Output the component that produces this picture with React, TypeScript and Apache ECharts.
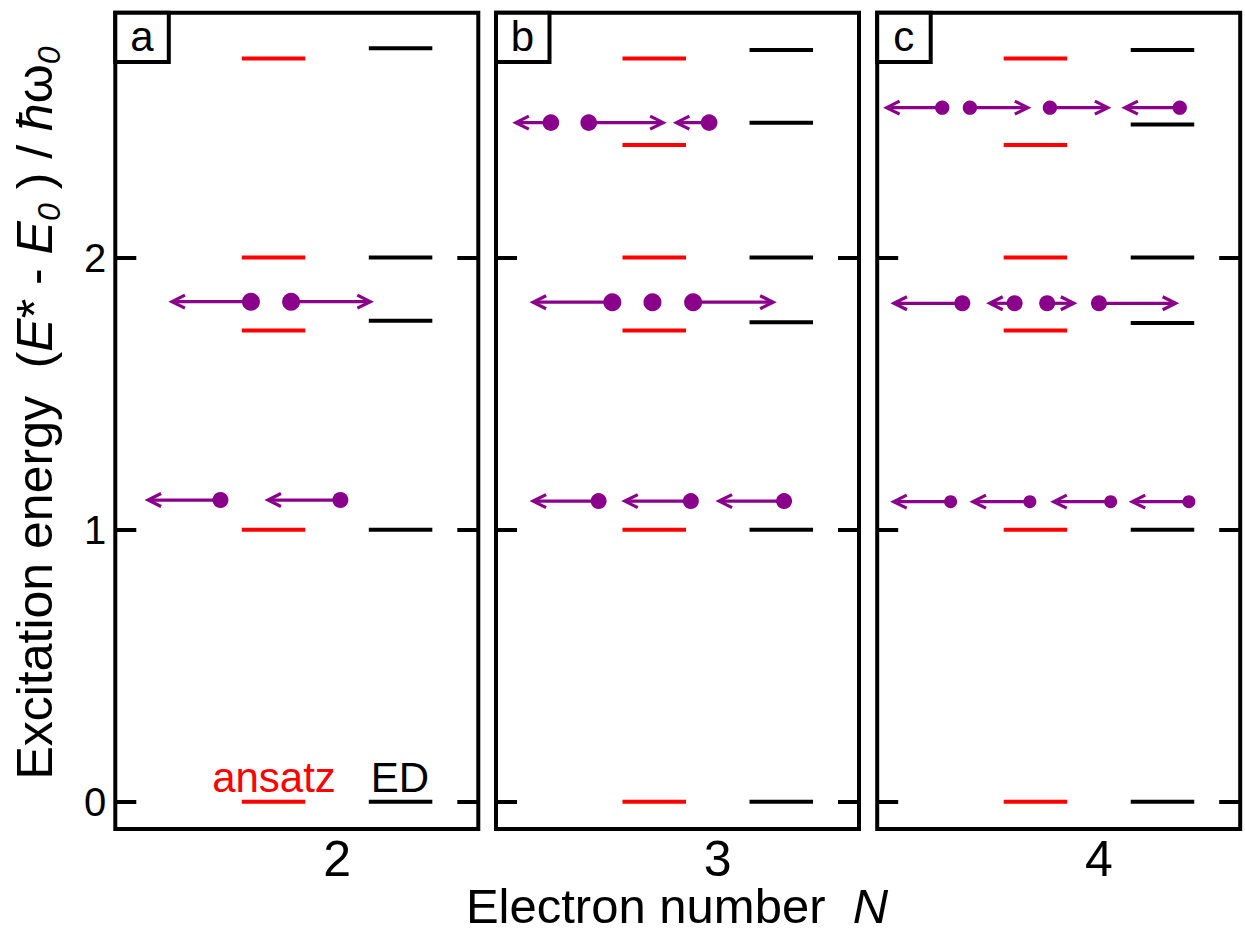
import React, { useEffect, useRef } from "react";
import * as echarts from "echarts";

const FONT = "'Liberation Sans', Arial, sans-serif";
const PURPLE = "#8b008b";
const RED = "#ff0000";

// Categories (one panel per electron number)
const electronNumbers = [2, 3, 4];
const panelLetters = ["a", "b", "c"];
const yTickValues = [0, 1, 2];

// Energy levels (units of hbar*omega0)
const ansatzLevelsN2 = [0, 1, 1.732, 2, 2.732];
const ansatzLevelsN3 = [0, 1, 1.732, 2, 2.414, 2.732];
const ansatzLevelsN4 = [0, 1, 1.732, 2, 2.414, 2.732];
const edLevelsN2 = [0, 1, 1.768, 2, 2.769];
const edLevelsN3 = [0, 1, 1.762, 2, 2.496, 2.763];
const edLevelsN4 = [0, 1, 1.76, 2, 2.489, 2.763];

// Arrows: [dot position, energy, arrow tip position (null = no arrow), dot weight]
const arrowsN2 = [
  [1.541, 1.109, 1.256, 8],
  [2.013, 1.109, 1.728, 8],
  [1.661, 1.838, 1.35, 9],
  [1.819, 1.838, 2.131, 9],
];
const arrowsN3 = [
  [2.531, 1.105, 2.273, 8],
  [2.894, 1.105, 2.634, 8],
  [3.261, 1.105, 3.005, 8],
  [2.585, 1.836, 2.273, 9],
  [2.743, 1.836, null, 9],
  [2.903, 1.836, 3.218, 9],
  [2.343, 2.496, 2.205, 8.3],
  [2.492, 2.496, 2.785, 8.3],
  [2.966, 2.496, 2.837, 8.3],
];
const arrowsN4 = [
  [3.416, 1.103, 3.192, 6.5],
  [3.728, 1.103, 3.504, 6.5],
  [4.046, 1.103, 3.822, 6.5],
  [4.354, 1.103, 4.131, 6.5],
  [3.462, 1.832, 3.193, 8],
  [3.668, 1.832, 3.57, 8],
  [3.796, 1.832, 3.901, 8],
  [4.0, 1.832, 4.302, 8],
  [3.383, 2.551, 3.164, 7.2],
  [3.492, 2.551, 3.72, 7.2],
  [3.807, 2.551, 4.035, 7.2],
  [4.318, 2.551, 4.102, 7.2],
];

const ansatzLevels = [ansatzLevelsN2, ansatzLevelsN3, ansatzLevelsN4];
const edLevels = [edLevelsN2, edLevelsN3, edLevelsN4];
const arrowSets = [arrowsN2, arrowsN3, arrowsN4];

// layout
const GRID_LEFTS = [115.3, 496, 877.2];
const GRID_TOP = 12.7;
const GRID_W = 363;
const GRID_H = 816.3;
const X_BELOW = 0.873;
const X_ABOVE = 0.556;
const LEVEL_IN = 0.125;
const LEVEL_OUT = 0.375;

function levelRenderer(color: string, width: number) {
  return (params: any, api: any) => {
    const p1 = api.coord([api.value(0), api.value(1)]);
    const p2 = api.coord([api.value(2), api.value(1)]);
    return {
      type: "line",
      shape: { x1: p1[0], y1: p1[1], x2: p2[0], y2: p2[1] },
      style: { stroke: color, lineWidth: width },
    };
  };
}

function arrowRenderer(params: any, api: any) {
  const dot = api.coord([api.value(0), api.value(1)]);
  const tipVal = api.value(2);
  const r = api.value(3);
  const children: any[] = [];
  if (tipVal !== null && !isNaN(tipVal)) {
    const tip = api.coord([tipVal, api.value(1)]);
    const d = Math.sign(dot[0] - tip[0]) || 1;
    children.push({
      type: "line",
      shape: { x1: dot[0], y1: dot[1], x2: tip[0] + d * 1, y2: tip[1] },
      style: { stroke: PURPLE, lineWidth: 3.2 },
    });
    children.push({
      type: "polyline",
      shape: {
        points: [
          [tip[0] + d * 13, tip[1] - 6.5],
          [tip[0], tip[1]],
          [tip[0] + d * 13, tip[1] + 6.5],
        ],
      },
      style: { stroke: PURPLE, lineWidth: 3.2, fill: null, lineJoin: "miter" },
    });
  }
  children.push({
    type: "circle",
    shape: { cx: dot[0], cy: dot[1], r },
    style: { fill: PURPLE },
  });
  return { type: "group", children };
}

export default function App() {
  const ref = useRef<HTMLDivElement>(null);
  useEffect(() => {
    if (!ref.current) return;
    const chart = echarts.init(ref.current, undefined, { renderer: "svg" });

    const grids: any[] = [];
    const xAxes: any[] = [];
    const yAxes: any[] = [];
    const series: any[] = [];
    const graphics: any[] = [];

    electronNumbers.forEach((N, i) => {
      grids.push({
        left: GRID_LEFTS[i],
        top: GRID_TOP,
        width: GRID_W,
        height: GRID_H,
        show: true,
        borderColor: "#000",
        borderWidth: 4,
        backgroundColor: "transparent",
      });
      xAxes.push({
        type: "value",
        gridIndex: i,
        min: N - X_BELOW,
        max: N + X_ABOVE,
        axisLine: { show: false },
        axisTick: { show: false },
        splitLine: { show: false },
        axisLabel: {
          customValues: [N],
          fontSize: 50,
          lineHeight: 38,
          fontFamily: FONT,
          color: "#000",
          margin: 11,
          formatter: (v: number) => String(Math.round(v)),
        },
      });
      ["left", "right"].forEach((pos) => {
        yAxes.push({
          type: "value",
          gridIndex: i,
          position: pos,
          min: -0.1,
          max: 2.9,
          axisLine: { show: false },
          splitLine: { show: false },
          axisTick: {
            show: true,
            inside: true,
            length: 21,
            customValues: yTickValues,
            lineStyle: { color: "#000", width: 4 },
          },
          axisLabel: {
            show: i === 0 && pos === "left",
            customValues: yTickValues,
            fontSize: 40,
            fontFamily: FONT,
            color: "#000",
            margin: 9,
          },
        });
      });

      series.push({
        type: "custom",
        name: "ansatz",
        xAxisIndex: i,
        yAxisIndex: i * 2,
        renderItem: levelRenderer(RED, 4),
        data: ansatzLevels[i].map((e) => [N - LEVEL_OUT, e, N - LEVEL_IN]),
        z: 3,
      });
      series.push({
        type: "custom",
        name: "ED",
        xAxisIndex: i,
        yAxisIndex: i * 2,
        renderItem: levelRenderer("#000", 4),
        data: edLevels[i].map((e) => [N + LEVEL_IN, e, N + LEVEL_OUT]),
        z: 3,
      });
      series.push({
        type: "custom",
        name: "arrows",
        xAxisIndex: i,
        yAxisIndex: i * 2,
        renderItem: arrowRenderer,
        data: arrowSets[i],
        z: 4,
      });

      // panel letter boxes
      const bx = GRID_LEFTS[i];
      graphics.push({
        type: "rect",
        shape: { x: bx, y: GRID_TOP, width: 53.5, height: 49.3 },
        style: { fill: "#fff", stroke: "#000", lineWidth: 4 },
        z: 10,
      });
      graphics.push({
        type: "text",
        x: bx + 26.5,
        y: 36,
        style: {
          text: panelLetters[i],
          fontSize: 42,
          fontFamily: FONT,
          fill: "#000",
          align: "center",
          verticalAlign: "middle",
          textAlign: "center",
          textVerticalAlign: "middle",
        },
        z: 11,
      });
    });

    graphics.push({
      type: "text",
      x: 274,
      y: 777,
      style: {
        text: "ansatz",
        fontSize: 42,
        fontFamily: FONT,
        fill: RED,
        align: "center",
        verticalAlign: "middle",
        textAlign: "center",
        textVerticalAlign: "middle",
      },
      z: 11,
    });
    graphics.push({
      type: "text",
      x: 400,
      y: 777,
      style: {
        text: "ED",
        fontSize: 42,
        fontFamily: FONT,
        fill: "#000",
        align: "center",
        verticalAlign: "middle",
        textAlign: "center",
        textVerticalAlign: "middle",
      },
      z: 11,
    });
    graphics.push({
      type: "text",
      x: 677,
      y: 906,
      style: {
        text: "{n|Electron number  }{i|N}",
        fill: "#000",
        align: "center",
        verticalAlign: "middle",
        textAlign: "center",
        textVerticalAlign: "middle",
        rich: {
          n: { fontSize: 49, fontFamily: FONT, fill: "#000", lineHeight: 40 },
          i: { fontSize: 49, fontFamily: FONT, fontStyle: "italic", fill: "#000", lineHeight: 40 },
        },
      },
      z: 11,
    });
    graphics.push({
      type: "text",
      x: 35,
      y: 413,
      rotation: Math.PI / 2,
      style: {
        text: "{n|Excitation energy  (}{i|E}{n|* - }{i|E}{s|0}{n| ) / }{i|ħ}{n|ω}{s|0}",
        fill: "#000",
        align: "center",
        verticalAlign: "middle",
        textAlign: "center",
        textVerticalAlign: "middle",
        rich: {
          n: { fontSize: 50, fontFamily: FONT, fill: "#000", lineHeight: 60 },
          i: { fontSize: 50, fontFamily: FONT, fontStyle: "italic", fill: "#000", lineHeight: 60 },
          s: {
            fontSize: 32,
            fontFamily: FONT,
            fontStyle: "italic",
            fill: "#000",
            lineHeight: 32,
            verticalAlign: "bottom",
          },
        },
      },
      z: 11,
    });

    chart.setOption({
      animation: false,
      backgroundColor: "#fff",
      textStyle: { fontFamily: FONT },
      grid: grids,
      xAxis: xAxes,
      yAxis: yAxes,
      series,
      graphic: graphics,
    });
    return () => chart.dispose();
  }, []);

  return (
    <div
      ref={ref}
      style={{ position: "absolute", left: 0, top: 0, width: 1245, height: 937 }}
    />
  );
}
